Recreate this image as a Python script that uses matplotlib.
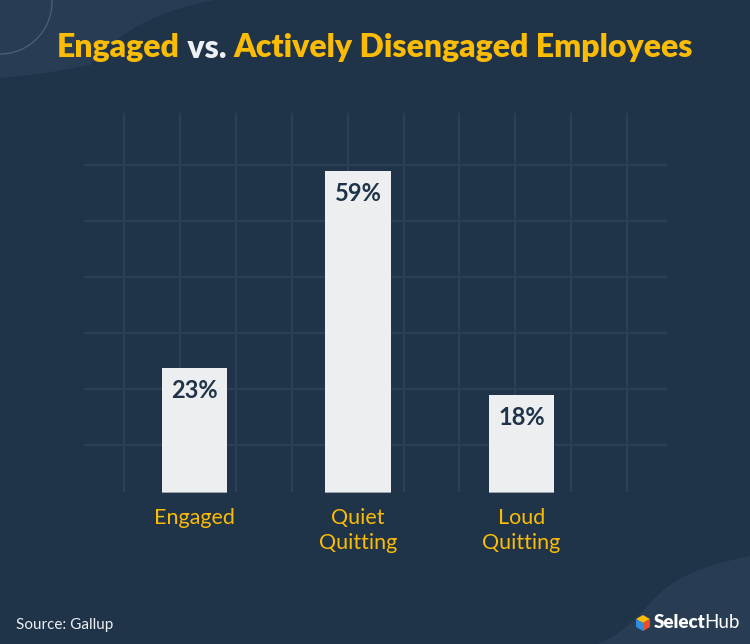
import matplotlib
matplotlib.use("Agg")
import matplotlib.pyplot as plt
from matplotlib.patches import Polygon, Circle, PathPatch
from matplotlib.path import Path
from matplotlib.lines import Line2D
import numpy as np

# data
categories = ["Engaged", "Quiet\nQuitting", "Loud\nQuitting"]
values = [23, 59, 18]
value_labels = ["23%", "59%", "18%"]

BG = "#1f3349"
LIGHT = "#283d53"
GRID = "#2b3f56"
BAR = "#edeef0"
YELLOW = "#fbbc05"
NAVY = "#1f3349"
FONT = "Lato"

W, H = 750, 644
fig = plt.figure(figsize=(7.5, 6.44), dpi=100)
fig.patch.set_facecolor(BG)

# background decorations, drawn in pixel coords (top-left origin)
bg = fig.add_axes([0, 0, 1, 1])
bg.set_xlim(0, W)
bg.set_ylim(H, 0)
bg.axis("off")
bg.set_zorder(-1)

tl = Path([(0, 0), (215, 0), (160, 10), (120, 30), (90, 65), (40, 75), (0, 78), (0, 0)],
          [Path.MOVETO, Path.LINETO, Path.CURVE4, Path.CURVE4, Path.CURVE4,
           Path.CURVE3, Path.CURVE3, Path.CLOSEPOLY])
bg.add_patch(PathPatch(tl, facecolor=LIGHT, edgecolor="none"))
bg.add_patch(Circle((0, 2), 52, facecolor="none", edgecolor="#4a5d71", lw=1))

br = Path([(750, 556), (700, 566), (672, 578), (650, 603), (625, 633), (598, 644),
           (750, 644), (750, 556)],
          [Path.MOVETO, Path.CURVE4, Path.CURVE4, Path.CURVE4, Path.CURVE3, Path.CURVE3,
           Path.LINETO, Path.CLOSEPOLY])
bg.add_patch(PathPatch(br, facecolor=LIGHT, edgecolor="none"))

dx, dy = np.meshgrid([5, 15, 25, 35, 45], [556, 566, 576, 586])
bg.scatter(dx.ravel(), dy.ravel(), s=1.5, color="#293e54", linewidths=0)

# decorative grid
for gx in np.arange(124, 630, 55.9):
    bg.add_line(Line2D([gx, gx], [114, 491], color=GRID, lw=1.6))
for gy in [165, 221, 277, 333, 389, 445]:
    bg.add_line(Line2D([85, 666], [gy, gy], color=GRID, lw=1.6))

# bar chart
ax = fig.add_axes([85 / W, 1 - 493 / H, 581 / W, 379 / H])
ax.set_facecolor("none")
x = np.arange(len(values))
ax.bar(x, values, width=0.4, color=BAR, edgecolor="none", zorder=3)
ax.bar(x, [0.25] * len(values), width=0.4, color="#9aa3ad", zorder=4)
ax.set_xlim(-0.67, 2.884)
ax.set_ylim(0, 69.5)
for s in ax.spines.values():
    s.set_visible(False)
ax.set_yticks([])
ax.set_xticks(x, categories)
ax.tick_params(axis="x", length=0, pad=11, colors=YELLOW, labelsize=15.5)
for t in ax.get_xticklabels():
    t.set_fontfamily(FONT)
    t.set_linespacing(1.3)

for xi, v, lab in zip(x, values, value_labels):
    ax.annotate(lab, (xi, v), xytext=(0, -8), textcoords="offset points",
                ha="center", va="top", color=NAVY, fontsize=17,
                fontweight="bold", family=FONT, zorder=5)

# title in pieces
renderer = fig.canvas.get_renderer()
parts = [("Engaged", YELLOW), (" vs. ", "#eef0f3"), ("Actively Disengaged Employees", YELLOW)]
texts = []
for s, c in parts:
    texts.append(fig.text(0, 1 - 48 / H, s, color=c, fontsize=23, fontweight="heavy",
                          family=FONT, va="center", ha="left"))
widths = [t.get_window_extent(renderer).width for t in texts]
xpos = (W - sum(widths)) / 2
for t, w in zip(texts, widths):
    t.set_x(xpos / W)
    xpos += w

fig.text(16 / W, 1 - 625 / H, "Source: Gallup", color="#eef0f3", fontsize=11,
         family=FONT, va="center", ha="left")

# logo
cx, cy, r = 643, 623, 8
hexpts = [(cx + r * np.cos(np.radians(a)), cy - r * np.sin(np.radians(a)))
          for a in [90, 30, -30, -90, -150, 150]]
c = (cx, cy)
bg.add_patch(Polygon([c, hexpts[5], hexpts[0], hexpts[1]], facecolor="#fbbc05", edgecolor="none"))
bg.add_patch(Polygon([c, hexpts[1], hexpts[2], hexpts[3]], facecolor="#ef4e2b", edgecolor="none"))
bg.add_patch(Polygon([c, hexpts[3], hexpts[4], hexpts[5]], facecolor="#2e8fe0", edgecolor="none"))
t1 = fig.text(654 / W, 1 - 623 / H, "Select", color="white", fontsize=13.5,
              fontweight="heavy", family=FONT, va="center", ha="left")
w1 = t1.get_window_extent(renderer).width
fig.text((654 + w1 - 1) / W, 1 - 623 / H, "Hub", color="white", fontsize=13.5,
         family=FONT, va="center", ha="left")

fig.savefig("out.png", dpi=100, facecolor=BG)
